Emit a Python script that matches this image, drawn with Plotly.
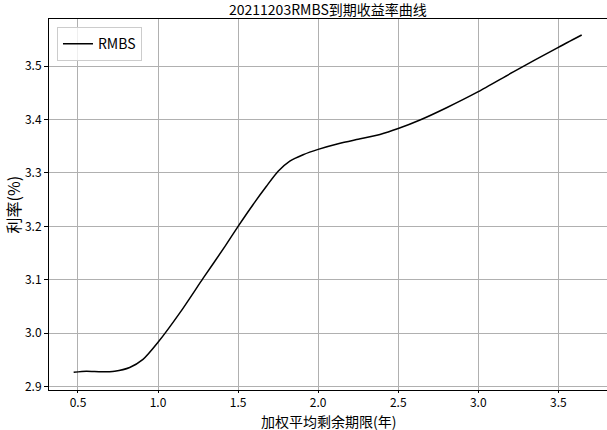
import plotly.graph_objects as go

title_text = "20211203RMBS到期收益率曲线"
series_name = "RMBS"
x_label = "加权平均剩余期限(年)"
y_label = "利率(%)"

maturity = [0.473, 0.552, 0.646, 0.729, 0.823, 0.906, 1.0, 1.136, 1.282, 1.417,
            1.5, 1.594, 1.677, 1.75, 1.823, 1.906, 2.0, 2.131, 2.25, 2.386, 2.5, 2.636,
            2.802, 3.0, 3.219, 3.5, 3.646]
rate = [2.927, 2.929, 2.928, 2.929, 2.936, 2.951, 2.983, 3.038, 3.103, 3.162,
        3.200, 3.241, 3.275, 3.303, 3.322, 3.334, 3.344, 3.355, 3.363, 3.372, 3.383, 3.399,
        3.422, 3.452, 3.489, 3.535, 3.558]

x_ticks = [0.5, 1.0, 1.5, 2.0, 2.5, 3.0, 3.5]
y_ticks = [2.9, 3.0, 3.1, 3.2, 3.3, 3.4, 3.5]

FONT = "Noto Sans CJK SC"
W, H = 607, 430
L, R, T, B = 49, 0, 19, 40

fig = go.Figure()
fig.add_trace(go.Scatter(x=maturity, y=rate, mode="lines", name=series_name,
                         line=dict(color="black", width=1.5, shape="spline", smoothing=0.6)))

fig.update_layout(
    width=W, height=H,
    margin=dict(l=L, r=R, t=T, b=B, autoexpand=False),
    paper_bgcolor="white", plot_bgcolor="white",
    font=dict(family=FONT, color="black", size=12),
    showlegend=True,
    legend=dict(x=0.0143, y=0.978, xanchor="left", yanchor="top",
                bgcolor="rgba(255,255,255,0.8)", bordercolor="#cccccc", borderwidth=1,
                font=dict(size=14, family=FONT, color="black")),
    annotations=[
        dict(text=title_text, xref="paper", yref="paper", x=0.5, y=1 + 10 / (H - T - B),
             xanchor="center", yanchor="middle", showarrow=False,
             font=dict(size=14, family=FONT, color="black")),
        dict(text=x_label, xref="paper", yref="paper", x=0.5, y=-(420.5 - (H - B)) / (H - T - B),
             xanchor="center", yanchor="middle", showarrow=False,
             font=dict(size=14, family=FONT, color="black")),
        dict(text=y_label, xref="paper", yref="paper", x=-(L - 12) / (W - L - R), y=0.5,
             xanchor="center", yanchor="middle", showarrow=False, textangle=-90,
             font=dict(size=16, family=FONT, color="black")),
    ],
)
fig.update_xaxes(range=[0.319, 3.804], tickvals=x_ticks, ticktext=[f"{v:.1f}" for v in x_ticks],
                 showgrid=True, gridcolor="#b0b0b0", gridwidth=0.8, automargin=False,
                 showline=True, linecolor="black", linewidth=1, mirror=True,
                 ticks="outside", ticklen=2, tickcolor="black", zeroline=False,
                 tickfont=dict(size=12, family=FONT))
fig.update_yaxes(range=[2.8938, 3.588], tickvals=y_ticks, ticktext=[f"{v:.1f}" for v in y_ticks],
                 showgrid=True, gridcolor="#b0b0b0", gridwidth=0.8, automargin=False,
                 showline=True, linecolor="black", linewidth=1,
                 ticks="outside", ticklen=4, tickcolor="black", zeroline=False,
                 tickfont=dict(size=12, family=FONT))

fig.write_html("out.html", config={"displayModeBar": False},
               post_script="document.body.style.margin='0px';")
